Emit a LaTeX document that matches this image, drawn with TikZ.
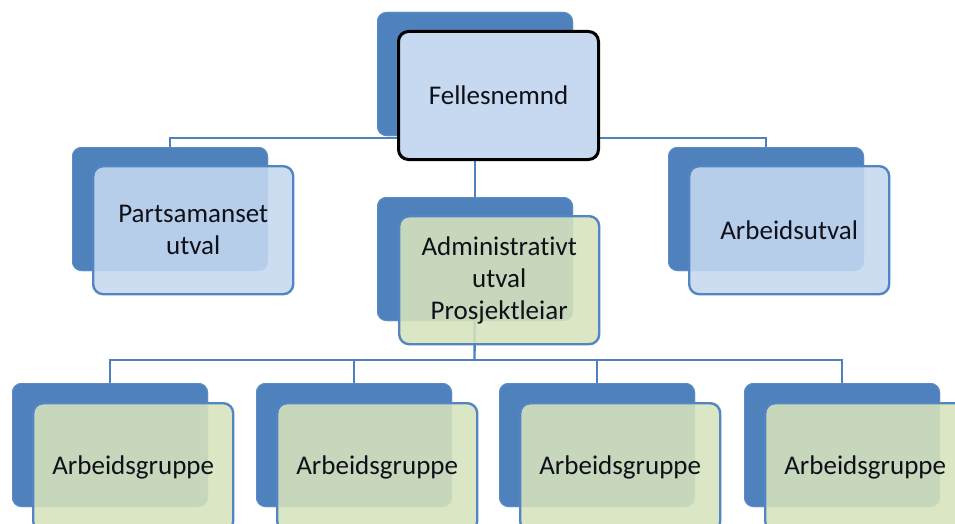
\documentclass[tikz,border=0pt]{standalone}
\usepackage{fontspec}
\setmainfont[Ligatures=NoCommon]{Carlito}
\definecolor{backc}{HTML}{4F81BD}
\definecolor{backd}{HTML}{5A8BC6}
\definecolor{frontblue}{HTML}{C6D9F1}
\definecolor{frontgreen}{HTML}{D7E4BC}
\definecolor{frontd}{HTML}{5385C2}
\definecolor{connc}{HTML}{4F81BD}
\definecolor{txt}{HTML}{101018}
\tikzset{
  backbox/.style={rectangle, rounded corners=9pt, fill=backc, draw=backd, line width=1pt,
    minimum width=195pt, minimum height=123pt, inner sep=0pt, anchor=north west},
  frontbox/.style={rectangle, rounded corners=10pt, draw=frontd, line width=2.4pt,
    minimum width=200pt, minimum height=128pt, inner sep=0pt, align=center,
    font=\fontsize{27}{32}\selectfont, text=txt, fill opacity=0.88, text opacity=1,
    anchor=north west},
  bluebox/.style={frontbox, fill=frontblue},
  greenbox/.style={frontbox, fill=frontgreen},
  topbox/.style={frontbox, fill=frontblue, fill opacity=1, draw=black, line width=3pt},
  conn/.style={draw=connc, line width=2.4pt}
}
\begin{document}
\begin{tikzpicture}[x=1pt,y=-1pt]
\clip (0,0) rectangle (955,524);
\fill[white] (0,0) rectangle (955,524);
% back boxes (named, used as connector anchors)
\node[backbox] (fellB) at (377,12) {};
\node[backbox] (partB) at (72,147) {};
\node[backbox] (admB) at (377,197) {};
\node[backbox] (arbB) at (668,147) {};
\node[backbox] (g1B) at (12,383) {};
\node[backbox] (g2B) at (256,383) {};
\node[backbox] (g3B) at (499,383) {};
\node[backbox] (g4B) at (744,383) {};
\coordinate (bar1) at (474.5,138);
\coordinate (bar2) at (474.5,360);
% connectors
\draw[conn] (partB.north) |- (bar1) -| (arbB.north);
\draw[conn] (fellB.south) -- (admB.north);
\draw[conn] (admB.center) -- (bar2);
\draw[conn] (g1B.north) |- (bar2) -| (g4B.north);
\draw[conn] (g2B.north) -- (g2B.north |- bar2);
\draw[conn] (g3B.north) -- (g3B.north |- bar2);
% back boxes again, over the connectors
\node[backbox] at (377,12) {};
\node[backbox] at (72,147) {};
\node[backbox] at (377,197) {};
\node[backbox] at (668,147) {};
\node[backbox] at (12,383) {};
\node[backbox] at (256,383) {};
\node[backbox] at (499,383) {};
\node[backbox] at (744,383) {};
% front boxes
\node[topbox] (fell) at (397,30) {Fellesnemnd};
\node[bluebox] (part) at (92,165) {Partsamanset\\utval};
\node[greenbox] (adm) at (398,215) {Administrativt\\utval\\Prosjektleiar};
\node[bluebox] (arb) at (688,165) {Arbeidsutval};
\node[greenbox] (g1) at (32,402) {Arbeidsgruppe};
\node[greenbox] (g2) at (276,402) {Arbeidsgruppe};
\node[greenbox] (g3) at (519,402) {Arbeidsgruppe};
\node[greenbox] (g4) at (764,402) {Arbeidsgruppe};
\end{tikzpicture}
\end{document}
